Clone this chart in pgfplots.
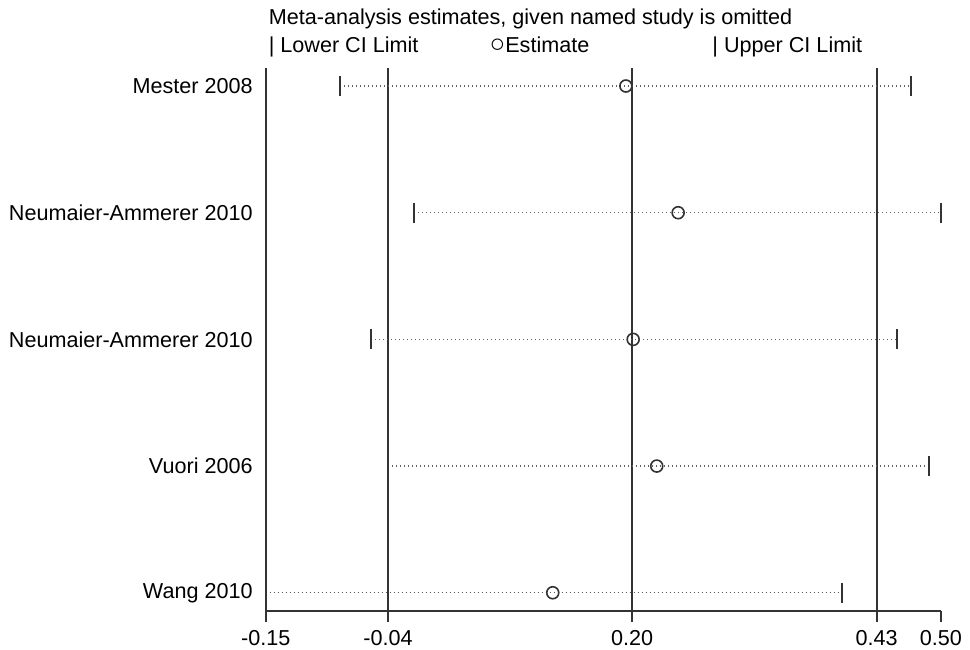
\documentclass[border=0pt]{standalone}
\usepackage{fontspec}
\setmainfont{Liberation Sans}
\usepackage{pgfplots}
\pgfplotsset{compat=1.18}
\usepackage{pgfplotstable}
\definecolor{ink}{HTML}{333333}
\definecolor{dots}{HTML}{606060}
\pgfplotstableread{
y lower est upper
5 -0.0784 0.1967 0.4712
4 -0.0072 0.2470 0.5000
3 -0.0485 0.2037 0.4574
2 -0.0325 0.2264 0.4885
1 -0.1500 0.1263 0.4043
}\studies
\begin{document}
\begin{tikzpicture}
\useasboundingbox (-132.85pt,-19pt) rectangle (352.15pt,305.5pt);
\begin{axis}[
  scale only axis,
  width=337.65pt, height=271.35pt,
  xmin=-0.15, xmax=0.50,
  ymin=0.856, ymax=5.14,
  clip=false,
  axis x line*=bottom, axis y line*=left,
  axis line style={ink, line width=1pt},
  xtick={-0.15,-0.0322,0.2027,0.438,0.50},
  xticklabels={-0.15,-0.04,0.20,0.43,0.50},
  xtick align=outside,
  major tick length=5.5pt,
  xtick style={ink, line width=1pt},
  ytick={1,2,3,4,5},
  yticklabels={Wang 2010,Vuori 2006,Neumaier-Ammerer 2010,Neumaier-Ammerer 2010,Mester 2008},
  ytick style={draw=none},
  tick label style={font=\fontsize{10.8}{12}\selectfont, text=black},
  yticklabel style={xshift=-3pt},
  xticklabel style={yshift=-0.5pt},
]
% reference lines (overall lower CI, estimate, upper CI)
\addplot[ink, line width=1pt] coordinates {(-0.0322,0.856) (-0.0322,5.14)};
\addplot[ink, line width=1pt] coordinates {(0.2027,0.856) (0.2027,5.14)};
\addplot[ink, line width=1pt] coordinates {(0.438,0.856) (0.438,5.14)};
% dotted CI lines
\addplot[dots, line width=0.65pt, dash pattern=on 0.6pt off 1.4pt] coordinates {(-0.0784,5) (0.4712,5)};
\addplot[dots, line width=0.65pt, dash pattern=on 0.6pt off 1.4pt] coordinates {(-0.0072,4) (0.5000,4)};
\addplot[dots, line width=0.65pt, dash pattern=on 0.6pt off 1.4pt] coordinates {(-0.0485,3) (0.4574,3)};
\addplot[dots, line width=0.65pt, dash pattern=on 0.6pt off 1.4pt] coordinates {(-0.0325,2) (0.4885,2)};
\addplot[dots, line width=0.65pt, dash pattern=on 0.6pt off 1.4pt] coordinates {(-0.1500,1) (0.4043,1)};
% CI limits
\addplot[only marks, mark=|, mark size=5pt, mark options={ink, line width=1pt}] table[x=lower, y=y] {\studies};
\addplot[only marks, mark=|, mark size=5pt, mark options={ink, line width=1pt}] table[x=upper, y=y] {\studies};
% estimates
\addplot[only marks, mark=o, mark size=3pt, mark options={ink, line width=0.8pt}] table[x=est, y=y] {\studies};
% title and key
\node[anchor=base west, inner sep=0pt, font=\fontsize{10.8}{12}\selectfont] at (axis description cs:0.004,1.0798) {Meta-analysis estimates, given named study is omitted};
\node[anchor=base west, inner sep=0pt, font=\fontsize{10.8}{12}\selectfont] at (axis description cs:0.004,1.030) {| Lower CI Limit};
\node[anchor=base west, inner sep=0pt, font=\fontsize{10.8}{12}\selectfont] at (axis description cs:0.331,1.030) {{\fontsize{13}{13}\selectfont ○}Estimate};
\node[anchor=base west, inner sep=0pt, font=\fontsize{10.8}{12}\selectfont] at (axis description cs:0.661,1.030) {| Upper CI Limit};
\end{axis}
\end{tikzpicture}
\end{document}
